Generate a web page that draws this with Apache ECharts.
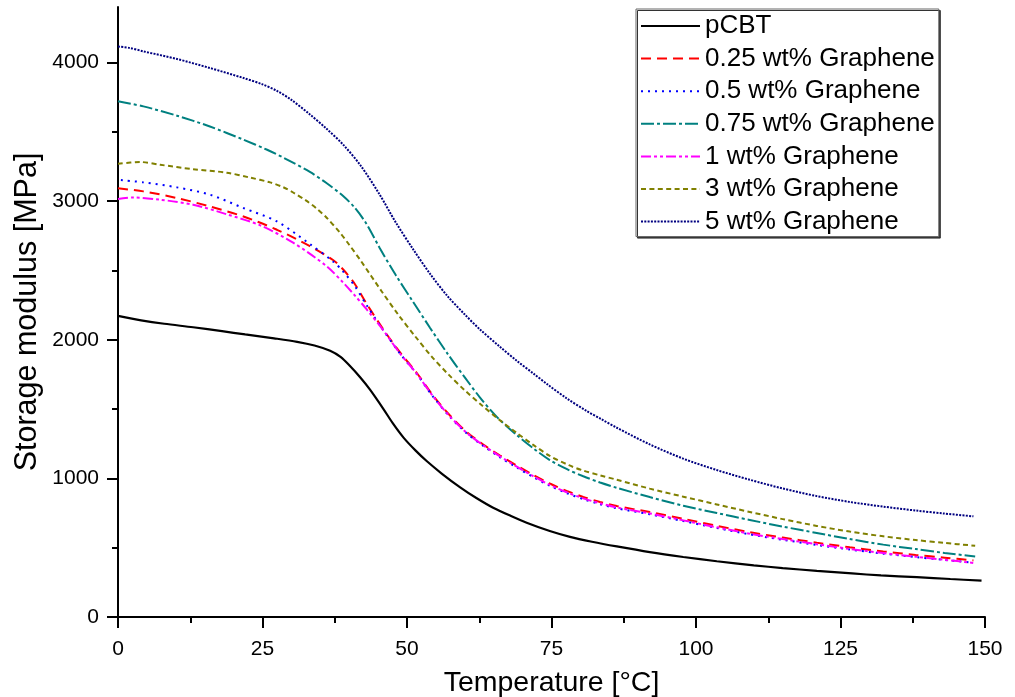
<!DOCTYPE html>
<html>
<head>
<meta charset="utf-8">
<script src="https://cdn.jsdelivr.net/npm/echarts@6/dist/echarts.min.js"></script>
<style>
    html, body { margin: 0; padding: 0; background: #ffffff; }
    #chart_storage { width: 1015px; height: 697px; }
</style>
</head>
<body>
<div id="chart_storage"></div>
<script>
var fontName = '"Liberation Sans", Arial, sans-serif';

// axis ticks
var xTicks = [0, 25, 50, 75, 100, 125, 150];
var yTicks = [0, 1000, 2000, 3000, 4000];
var yMinorTicks = [500, 1500, 2500, 3500];

var seriesNames = ['pCBT', '0.25 wt% Graphene', '0.5 wt% Graphene', '0.75 wt% Graphene',
    '1 wt% Graphene', '3 wt% Graphene', '5 wt% Graphene'];

// [Temperature °C, Storage modulus MPa]
var pCBT = [[0, 2172], [4, 2140], [8, 2115], [13, 2090], [18, 2062], [22, 2038], [27, 2010],
    [31, 1985], [34, 1958], [36.7, 1920], [38.5, 1876], [40.1, 1812], [42, 1724], [43.6, 1640],
    [45.9, 1502], [47.5, 1400], [49.4, 1294], [51.5, 1200], [53.4, 1125], [56, 1035], [59.2, 935],
    [62, 858], [64.9, 788], [68, 728], [70.7, 680], [74.7, 620], [78.2, 578], [82, 543],
    [86.3, 509], [92, 468], [97.8, 433], [103.6, 402], [110, 373], [115, 353], [120.9, 333],
    [127, 314], [132, 300], [138.2, 287], [144, 274], [149.4, 262]];

var g025 = [[0, 3092], [4.4, 3070], [10.2, 3022], [15.9, 2961], [21.7, 2889], [27.5, 2793],
    [33.2, 2675], [37.2, 2575], [39, 2505], [41, 2400], [43, 2260], [45.9, 2075], [48.8, 1908],
    [51.7, 1760], [54.5, 1598], [57.4, 1455], [60.3, 1336], [63.2, 1244], [66.1, 1165],
    [69, 1092], [71.9, 1024], [74.7, 963], [77.6, 910], [80.5, 866], [83.4, 830], [86.3, 800],
    [92, 757], [97.8, 708], [103.6, 658], [109.3, 612], [115, 573], [120.9, 536], [126.6, 503],
    [132.4, 473], [138, 448], [143, 428], [148, 408]];

var g05 = [[0.5, 3152], [4.4, 3135], [10.2, 3099], [15.9, 3046], [21.7, 2950], [27.5, 2853],
    [33.2, 2690], [37.2, 2565], [39, 2490], [41, 2385], [43, 2250], [45.9, 2068], [48.8, 1900],
    [51.7, 1752], [54.5, 1590], [57.4, 1445], [60.3, 1326], [63.2, 1234], [66.1, 1152],
    [69, 1078], [71.9, 1008], [74.7, 947], [77.6, 894], [80.5, 850], [83.4, 814], [86.3, 784],
    [92, 741], [97.8, 692], [103.6, 642], [109.3, 596], [115, 557], [120.9, 520], [126.6, 487],
    [132.4, 457], [138, 432], [143, 412], [148, 392]];

var g075 = [[0, 3720], [4.4, 3683], [10.2, 3616], [15.9, 3538], [21.7, 3443], [25.7, 3372],
    [29, 3305], [33.2, 3210], [36, 3132], [39, 3035], [41, 2950], [43, 2835], [45.3, 2660],
    [48, 2470], [51.1, 2270], [54, 2085], [57, 1900], [60, 1728], [62.6, 1585], [65.5, 1445],
    [69, 1312], [71.9, 1215], [74.7, 1132], [77.6, 1068], [80.5, 1015], [83.4, 970], [86.3, 932],
    [92, 865], [97.8, 803], [103.6, 750], [109.3, 700], [115, 652], [120.9, 606], [126.6, 562],
    [132.4, 522], [138, 490], [143, 462], [148.3, 437]];

var g1 = [[0, 3015], [2.6, 3026], [7.3, 3010], [13, 2974], [18.8, 2905], [24.6, 2825],
    [30.3, 2700], [36.1, 2530], [39, 2410], [41, 2318], [43, 2220], [45.9, 2068], [48.8, 1900],
    [51.7, 1754], [54.5, 1592], [57.4, 1448], [60.3, 1330], [63.2, 1238], [66.1, 1158],
    [69, 1084], [71.9, 1014], [74.7, 953], [77.6, 900], [80.5, 856], [83.4, 820], [86.3, 790],
    [92, 747], [97.8, 697], [103.6, 647], [109.3, 601], [115, 562], [120.9, 525], [126.6, 491],
    [132.4, 461], [138, 435], [143, 413], [148, 390]];

var g3 = [[0, 3269], [3.8, 3282], [7.3, 3262], [13, 3230], [18.8, 3205], [22.8, 3170],
    [26.3, 3135], [28.6, 3100], [30.3, 3062], [32.5, 3005], [34.4, 2945], [36.1, 2880],
    [38.4, 2772], [40, 2685], [42, 2570], [45.6, 2350], [48.5, 2180], [51.4, 2025], [54.2, 1882],
    [57.2, 1748], [60, 1635], [63, 1525], [66, 1422], [69, 1327], [71.9, 1240], [74.7, 1162],
    [78, 1095], [80.5, 1056], [83.4, 1022], [86.3, 990], [92, 926], [97.8, 868], [103.6, 812],
    [109.3, 758], [115, 706], [120.9, 657], [126.6, 616], [132.4, 582], [138, 555], [143, 534],
    [148.3, 514]];

var g5 = [[0, 4115], [2, 4105], [4.4, 4080], [10.2, 4025], [15.9, 3960], [21.7, 3888],
    [25, 3842], [27.5, 3795], [30, 3730], [33.2, 3625], [36, 3525], [39, 3405], [42, 3255],
    [45.3, 3045], [48, 2850], [51.1, 2650], [54, 2475], [57, 2315], [60, 2182], [62.6, 2075],
    [66, 1952], [69, 1848], [72, 1752], [74.3, 1678], [77.6, 1578], [81, 1488], [83.7, 1425],
    [86.3, 1365], [92, 1245], [97.8, 1142], [103.6, 1060], [109.3, 990], [115, 927],
    [120.9, 872], [126.6, 830], [132.4, 796], [138, 768], [143, 746], [148, 726]];

var chart_storage = null;

$ready();

function $ready() {
    chart_storage = echarts.init(document.getElementById('chart_storage'), null, { renderer: 'canvas' });
    chart_storage.setOption(buildOption());
}

function makeLine(name, data, color, dash, width) {
    return {
        name: name,
        type: 'line',
        data: data,
        symbol: 'none',
        showSymbol: false,
        smooth: 0.3,
        animation: false,
        itemStyle: { color: color },
        lineStyle: { color: color, width: width, type: dash }
    };
}

function buildOption() {
    var axisBlack = { color: '#000000', width: 2 };
    return {
        backgroundColor: '#ffffff',
        animation: false,
        textStyle: { fontFamily: fontName },
        grid: { left: 118, right: 30, top: 7, bottom: 80, containLabel: false, outerBoundsMode: 'none' },
        legend: {
            orient: 'vertical',
            left: 636,
            top: 9,
            padding: [3, 4, 1, 4],
            itemWidth: 59,
            itemHeight: 14,
            itemGap: 4.6,
            backgroundColor: '#ffffff',
            borderColor: '#666666',
            borderWidth: 1,
            shadowColor: '#333333',
            shadowOffsetX: 1.5,
            shadowOffsetY: 1.5,
            shadowBlur: 0,
            itemStyle: { opacity: 0 },
            textStyle: { fontFamily: fontName, fontSize: 26, color: '#000000', lineHeight: 28 },
            data: seriesNames
        },
        xAxis: {
            type: 'value',
            min: 0,
            max: 150,
            interval: 25,
            name: 'Temperature [°C]',
            nameLocation: 'middle',
            nameGap: 52,
            nameMoveOverlap: false,
            nameTextStyle: { fontFamily: fontName, fontSize: 28.5, color: '#000000' },
            axisLine: { show: true, onZero: false, lineStyle: axisBlack },
            axisTick: { show: true, inside: false, length: 11, lineStyle: axisBlack },
            minorTick: { show: true, splitNumber: 2, length: 6, lineStyle: axisBlack },
            axisLabel: {
                fontFamily: fontName, fontSize: 21, color: '#000000', margin: 22,
                formatter: function (v) { return String(v); }
            },
            splitLine: { show: false },
            minorSplitLine: { show: false }
        },
        yAxis: [
            {
                type: 'value',
                min: 0,
                max: 4400,
                interval: 1000,
                name: 'Storage modulus [MPa]',
                nameLocation: 'middle',
                nameGap: 75,
                nameMoveOverlap: false,
                nameTextStyle: { fontFamily: fontName, fontSize: 30.5, color: '#000000' },
                axisLine: { show: true, onZero: false, lineStyle: axisBlack },
                axisTick: { show: true, inside: false, length: 11, lineStyle: axisBlack, customValues: yTicks },
                axisLabel: {
                    fontFamily: fontName, fontSize: 21, color: '#000000', margin: 19, customValues: yTicks,
                    formatter: function (v) { return String(v); }
                },
                splitLine: { show: false }
            },
            {
                // minor ticks only
                type: 'value',
                position: 'left',
                min: 0,
                max: 4400,
                axisLine: { show: false },
                axisTick: { show: true, inside: false, length: 6, lineStyle: axisBlack, customValues: yMinorTicks },
                axisLabel: { show: false },
                splitLine: { show: false }
            }
        ],
        series: [
            makeLine(seriesNames[0], pCBT, '#000000', 'solid', 2.2),
            makeLine(seriesNames[1], g025, '#ff0000', [10, 6], 2),
            makeLine(seriesNames[2], g05, '#0000ff', [2, 5], 2),
            makeLine(seriesNames[3], g075, '#008080', [13, 3, 3, 3], 2),
            makeLine(seriesNames[4], g1, '#ff00ff', [10, 3, 3, 3, 3, 3], 2),
            makeLine(seriesNames[5], g3, '#808000', [5, 3.4], 2),
            makeLine(seriesNames[6], g5, '#000080', [2, 1.3], 2)
        ]
    };
}
</script>
</body>
</html>
